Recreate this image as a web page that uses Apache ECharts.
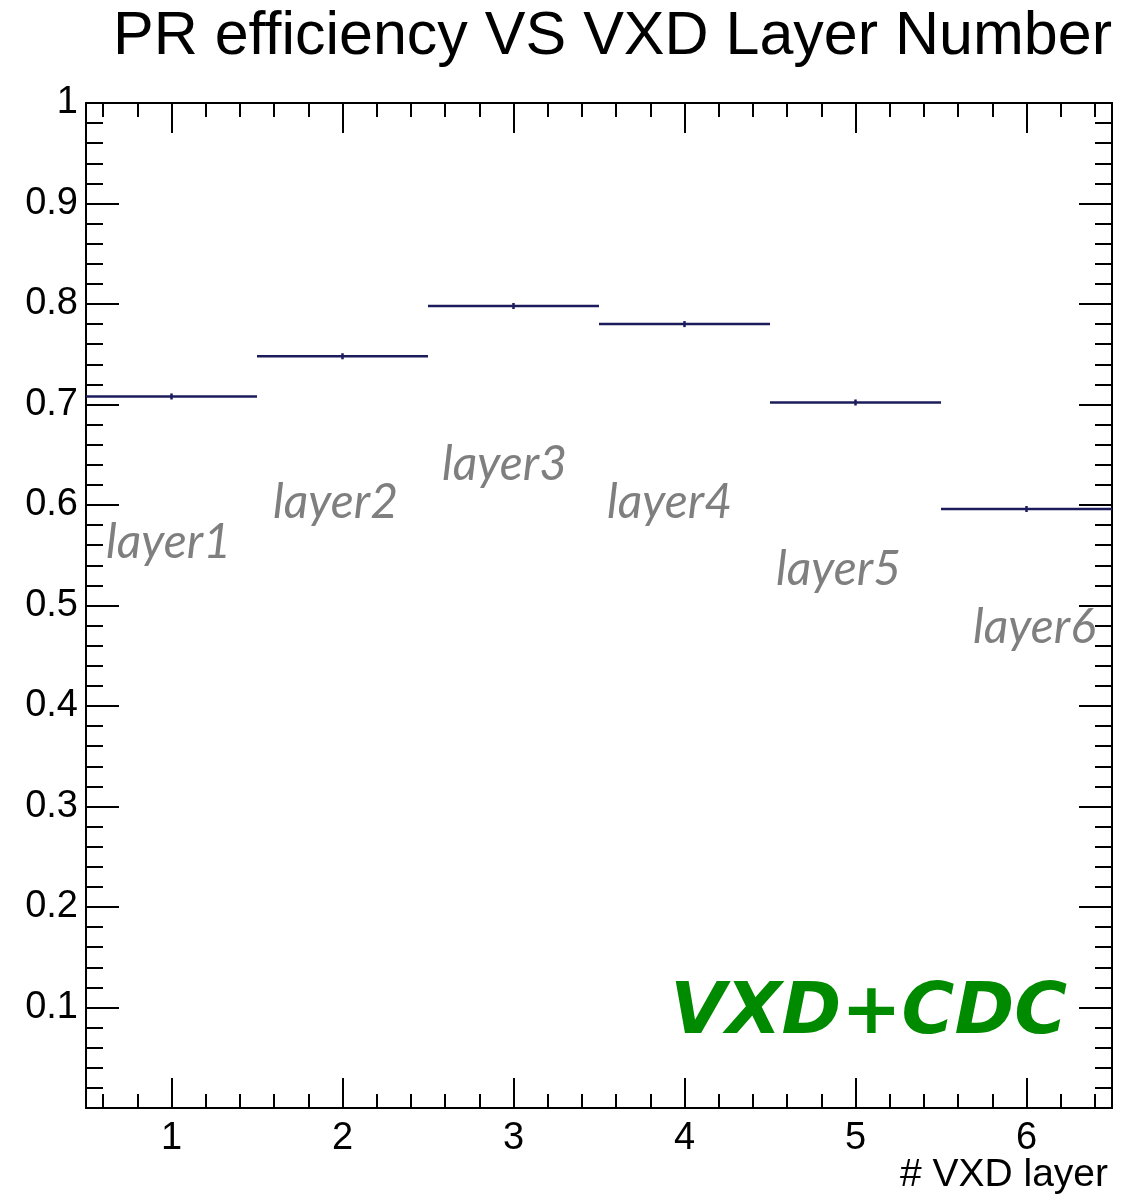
<!DOCTYPE html>
<html>
<head>
<meta charset="utf-8">
<script src="https://cdn.jsdelivr.net/npm/echarts@6/dist/echarts.min.js"></script>
<style>
  html, body { margin: 0; padding: 0; background: #fff; }
  #chart { width: 1121px; height: 1199px; }
</style>
</head>
<body>
<div id="chart"></div>
<script>
// 数据
const layers = [1, 2, 3, 4, 5, 6];
const efficiency = [0.708, 0.748, 0.798, 0.780, 0.702, 0.596];
const errors = [0.003, 0.003, 0.003, 0.003, 0.003, 0.003];
const layerNames = ['layer1', 'layer2', 'layer3', 'layer4', 'layer5', 'layer6'];
const xMajorTicks = [1, 2, 3, 4, 5, 6];

// 次刻度 0.2 一格
const xMinorTicks = [];
for (let k = 3; k <= 32; k++) {
  if (k % 5 !== 0) xMinorTicks.push(+(k / 5).toFixed(1));
}

const chart = echarts.init(document.getElementById('chart'));

const axisLine = { show: true, lineStyle: { color: '#000', width: 2 } };
const numFont = 'Liberation Sans, Arial, sans-serif';

function xAxisDef(pos, ticks, len, labels) {
  return {
    type: 'value', min: 0.5, max: 6.5, position: pos,
    axisLine: axisLine,
    axisTick: { show: true, inside: true, length: len, customValues: ticks, lineStyle: { color: '#000', width: 2 } },
    axisLabel: labels
      ? { show: true, customValues: xMajorTicks, margin: 12, fontSize: 38, color: '#000', fontFamily: numFont }
      : { show: false },
    splitLine: { show: false }
  };
}

function yAxisDef(pos, labels) {
  return {
    type: 'value', min: 0, max: 1, interval: 0.1, position: pos,
    axisLine: axisLine,
    axisTick: { show: true, inside: true, length: 33, lineStyle: { color: '#000', width: 2 } },
    minorTick: { show: true, splitNumber: 5, length: 17, lineStyle: { color: '#000', width: 2 } },
    axisLabel: labels
      ? {
          show: true, margin: 8, fontSize: 38, color: '#000', fontFamily: numFont,
          formatter: v => (v === 0 ? '' : (v === 1 ? '1' : v.toFixed(1)))
        }
      : { show: false },
    splitLine: { show: false }
  };
}

// 文字标注
const labelPos = [
  [106, 543], [273, 503], [442, 465], [607, 503], [776, 570], [973, 628]
];
const graphics = layerNames.map((t, i) => ({
  type: 'text', x: labelPos[i][0], y: labelPos[i][1],
  style: {
    text: t, fill: '#7f7f7f', font: 'italic 48px Lato, "Open Sans", sans-serif',
    textAlign: 'left', textVerticalAlign: 'middle'
  }
}));
graphics.push({
  type: 'text', x: 1112, y: 37,
  style: { text: 'PR efficiency VS VXD Layer Number', fill: '#000', font: '61px "Liberation Sans", Arial, sans-serif', textAlign: 'right', textVerticalAlign: 'middle' }
});
graphics.push({
  type: 'text', x: 1108, y: 1175,
  style: { text: '# VXD layer', fill: '#000', font: '39px "Liberation Sans", Arial, sans-serif', textAlign: 'right', textVerticalAlign: 'middle' }
});
graphics.push({
  type: 'text', x: 1067, y: 1014,
  style: { text: 'VXD+CDC', fill: '#008a00', font: 'italic bold 72px "DejaVu Sans", sans-serif', textAlign: 'right', textVerticalAlign: 'middle' }
});

const option = {
  animation: false,
  grid: { left: 86, right: 9, top: 103, bottom: 91 },
  xAxis: [
    xAxisDef('bottom', xMajorTicks, 30, true),
    xAxisDef('bottom', xMinorTicks, 14, false),
    xAxisDef('top', xMajorTicks, 30, false),
    xAxisDef('top', xMinorTicks, 14, false)
  ],
  yAxis: [yAxisDef('left', true), yAxisDef('right', false)],
  graphic: graphics,
  series: [
    {
      type: 'custom',
      xAxisIndex: 0,
      yAxisIndex: 0,
      data: layers.map((x, i) => [x, efficiency[i], errors[i]]),
      renderItem: function (params, api) {
        const x = api.value(0), y = api.value(1), e = api.value(2);
        const p0 = api.coord([x - 0.5, y]);
        const p1 = api.coord([x + 0.5, y]);
        const e0 = api.coord([x, y - e]);
        const e1 = api.coord([x, y + e]);
        const st = { stroke: '#1c1c5c', lineWidth: 2.5 };
        return {
          type: 'group',
          children: [
            { type: 'line', shape: { x1: p0[0], y1: p0[1], x2: p1[0], y2: p1[1] }, style: st },
            { type: 'line', shape: { x1: e0[0], y1: e0[1], x2: e1[0], y2: e1[1] }, style: st }
          ]
        };
      }
    }
  ]
};

chart.setOption(option);
</script>
</body>
</html>
